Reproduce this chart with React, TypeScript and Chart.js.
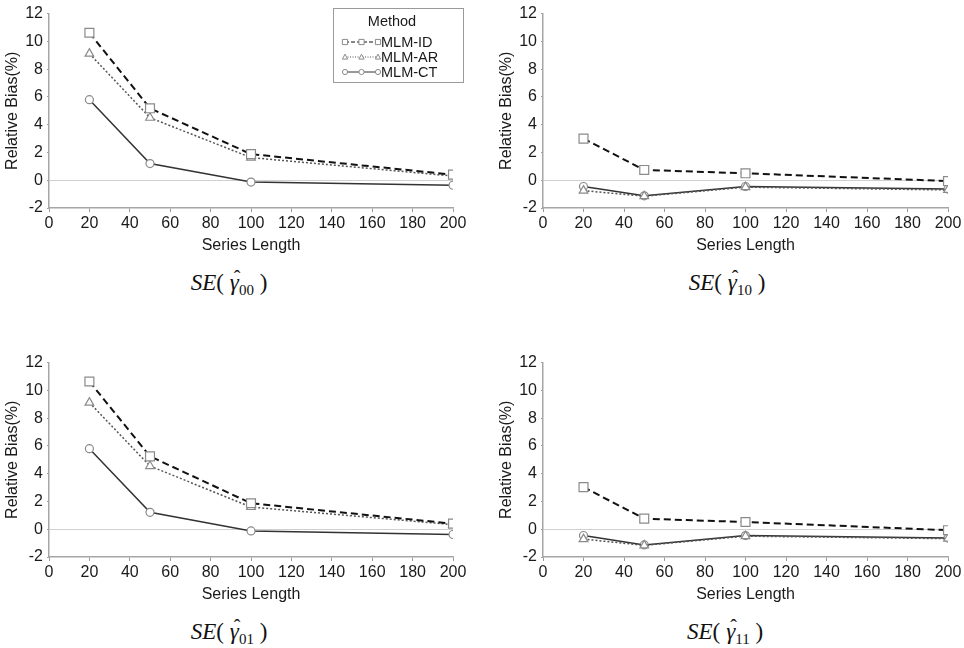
import { useEffect, useRef } from 'react'
import Chart from 'chart.js/auto'

// x values (series length) shared by every panel
const seriesLengths = [20, 50, 100, 200]
const methods = ['MLM-ID', 'MLM-AR', 'MLM-CT']
const axisTitleX = 'Series Length'
const axisTitleY = 'Relative Bias(%)'

// SE(gamma00)
const idGamma00 = [10.62, 5.18, 1.88, 0.4]
const arGamma00 = [9.12, 4.5, 1.63, 0.3]
const ctGamma00 = [5.8, 1.2, -0.13, -0.36]
// SE(gamma10)
const idGamma10 = [3.0, 0.74, 0.5, -0.06]
const arGamma10 = [-0.75, -1.15, -0.5, -0.7]
const ctGamma10 = [-0.45, -1.12, -0.45, -0.64]
// SE(gamma01)
const idGamma01 = [10.64, 5.25, 1.87, 0.4]
const arGamma01 = [9.12, 4.55, 1.6, 0.33]
const ctGamma01 = [5.8, 1.22, -0.12, -0.38]
// SE(gamma11)
const idGamma11 = [3.03, 0.76, 0.52, -0.07]
const arGamma11 = [-0.71, -1.16, -0.5, -0.68]
const ctGamma11 = [-0.45, -1.13, -0.46, -0.64]

Chart.defaults.font.family = "'Liberation Sans', Arial, sans-serif"
Chart.defaults.font.size = 16
Chart.defaults.color = '#1a1a1a'

const POINT_BORDER = '#8a8a8a'

const methodStyles = [
  { color: '#111111', dash: [7, 4], width: 2, point: 'rect', radius: 6.3, legendDash: [4, 2] },
  { color: '#555555', dash: [2, 2], width: 1.5, point: 'triangle', radius: 5, legendDash: [1, 1.5] },
  { color: '#333333', dash: [] as number[], width: 1.5, point: 'circle', radius: 4, legendDash: [] as number[] },
]

function drawMarker(ctx: CanvasRenderingContext2D, kind: string, x: number, y: number, r: number) {
  ctx.beginPath()
  if (kind === 'rect') {
    ctx.rect(x - r, y - r, r * 2, r * 2)
  } else if (kind === 'triangle') {
    ctx.moveTo(x, y - r * 1.1)
    ctx.lineTo(x + r, y + r * 0.8)
    ctx.lineTo(x - r, y + r * 0.8)
    ctx.closePath()
  } else {
    ctx.arc(x, y, r, 0, Math.PI * 2)
  }
  ctx.fill()
  ctx.stroke()
}

// legend box drawn inside the first panel
const legendBox = {
  id: 'legendBox',
  afterDraw(chart: any) {
    const { ctx } = chart
    ctx.save()
    ctx.fillStyle = '#fff'
    ctx.strokeStyle = '#9a9a9a'
    ctx.lineWidth = 1
    ctx.fillRect(333, 8, 130, 74)
    ctx.strokeRect(333.5, 8.5, 130, 74)

    ctx.fillStyle = '#1a1a1a'
    ctx.font = "14.5px 'Liberation Sans', Arial, sans-serif"
    ctx.textAlign = 'center'
    ctx.textBaseline = 'middle'
    ctx.fillText('Method', 392, 22)

    const rows = [42, 57, 72]
    methodStyles.forEach((s, i) => {
      const y = rows[i]
      ctx.strokeStyle = s.color
      ctx.lineWidth = 1
      ctx.setLineDash(s.legendDash)
      ctx.beginPath()
      ctx.moveTo(345, y)
      ctx.lineTo(378, y)
      ctx.stroke()
      ctx.setLineDash([])
      ctx.fillStyle = '#fff'
      ctx.strokeStyle = POINT_BORDER
      ;[345, 361.5, 378].forEach(px => drawMarker(ctx, s.point, px, y, 2.6))
      ctx.fillStyle = '#1a1a1a'
      ctx.textAlign = 'left'
      ctx.fillText(methods[i], 381, y + 1)
    })
    ctx.restore()
  },
}

function Panel({ values, padRight, legend }: { values: number[][]; padRight: number; legend: boolean }) {
  const canvasRef = useRef<HTMLCanvasElement>(null)

  useEffect(() => {
    if (!canvasRef.current) return
    const axisBorder = { color: '#a6a6a6', width: 1.5 }
    const chart = new Chart(canvasRef.current, {
      type: 'line',
      data: {
        datasets: methods.map((m, i) => ({
          label: m,
          data: seriesLengths.map((x, j) => ({ x, y: values[i][j] })),
          borderColor: methodStyles[i].color,
          borderWidth: methodStyles[i].width,
          borderDash: methodStyles[i].dash,
          pointStyle: methodStyles[i].point as any,
          pointRadius: methodStyles[i].radius,
          pointBorderColor: POINT_BORDER,
          pointBackgroundColor: '#fff',
          pointBorderWidth: 1.2,
          tension: 0,
          fill: false,
        })),
      },
      options: {
        animation: false,
        responsive: true,
        maintainAspectRatio: false,
        layout: { padding: { top: 8, right: padRight, left: 0, bottom: 0 } },
        plugins: { legend: { display: false }, tooltip: { enabled: false } },
        scales: {
          x: {
            type: 'linear',
            min: 0,
            max: 200,
            ticks: { stepSize: 20, padding: 2 },
            grid: { drawOnChartArea: false, tickLength: 4, tickColor: '#9a9a9a' },
            border: axisBorder,
            title: { display: true, text: axisTitleX, padding: { top: 0, bottom: 5 } },
            afterFit: (s: any) => { s.height = 52 },
          },
          y: {
            type: 'linear',
            min: -2,
            max: 12,
            ticks: { stepSize: 2, padding: 4 },
            grid: {
              color: (c: any) => (c.tick && c.tick.value === 0 ? '#d0d0d0' : 'transparent'),
              tickLength: 2,
              tickColor: '#9a9a9a',
            },
            border: axisBorder,
            title: { display: true, text: axisTitleY, padding: { top: 3, bottom: 0 } },
            afterFit: (s: any) => { s.width = 49 },
          },
        },
      },
      plugins: legend ? [legendBox] : [],
    })
    return () => chart.destroy()
  }, [values, padRight, legend])

  return <canvas ref={canvasRef} />
}

function Caption({ sub }: { sub: string }) {
  return (
    <span style={{ fontFamily: "'Liberation Serif', 'Times New Roman', serif", fontSize: 23 }}>
      <i>SE</i>(
      <span style={{ position: 'relative', display: 'inline-block', marginLeft: 6 }}>
        <i>γ</i>
        <span style={{ position: 'absolute', left: 4, top: -5, fontSize: 20 }}>ˆ</span>
      </span>
      <sub style={{ fontSize: 15, verticalAlign: 'baseline', position: 'relative', top: 5 }}>{sub}</sub> )
    </span>
  )
}

const panels = [
  { sub: '00', values: [idGamma00, arGamma00, ctGamma00], left: 0, top: 0, width: 480, padRight: 27, capX: 229, capY: 283, legend: true },
  { sub: '10', values: [idGamma10, arGamma10, ctGamma10], left: 494, top: 0, width: 470, padRight: 16, capX: 727, capY: 283, legend: false },
  { sub: '01', values: [idGamma01, arGamma01, ctGamma01], left: 0, top: 349, width: 480, padRight: 27, capX: 229, capY: 632, legend: false },
  { sub: '11', values: [idGamma11, arGamma11, ctGamma11], left: 494, top: 349, width: 470, padRight: 16, capX: 725, capY: 632, legend: false },
]

export default function App() {
  return (
    <div style={{ position: 'fixed', left: 0, top: 0, width: 964, height: 648, background: '#fff', overflow: 'hidden' }}>
      {panels.map(p => (
        <div key={p.sub}>
          <div style={{ position: 'absolute', left: p.left, top: p.top, width: p.width, height: 260 }}>
            <Panel values={p.values} padRight={p.padRight} legend={p.legend} />
          </div>
          <div
            style={{
              position: 'absolute',
              left: p.capX - 100,
              top: p.capY - 16,
              width: 200,
              height: 32,
              lineHeight: '32px',
              textAlign: 'center',
              color: '#111',
            }}
          >
            <Caption sub={p.sub} />
          </div>
        </div>
      ))}
    </div>
  )
}
